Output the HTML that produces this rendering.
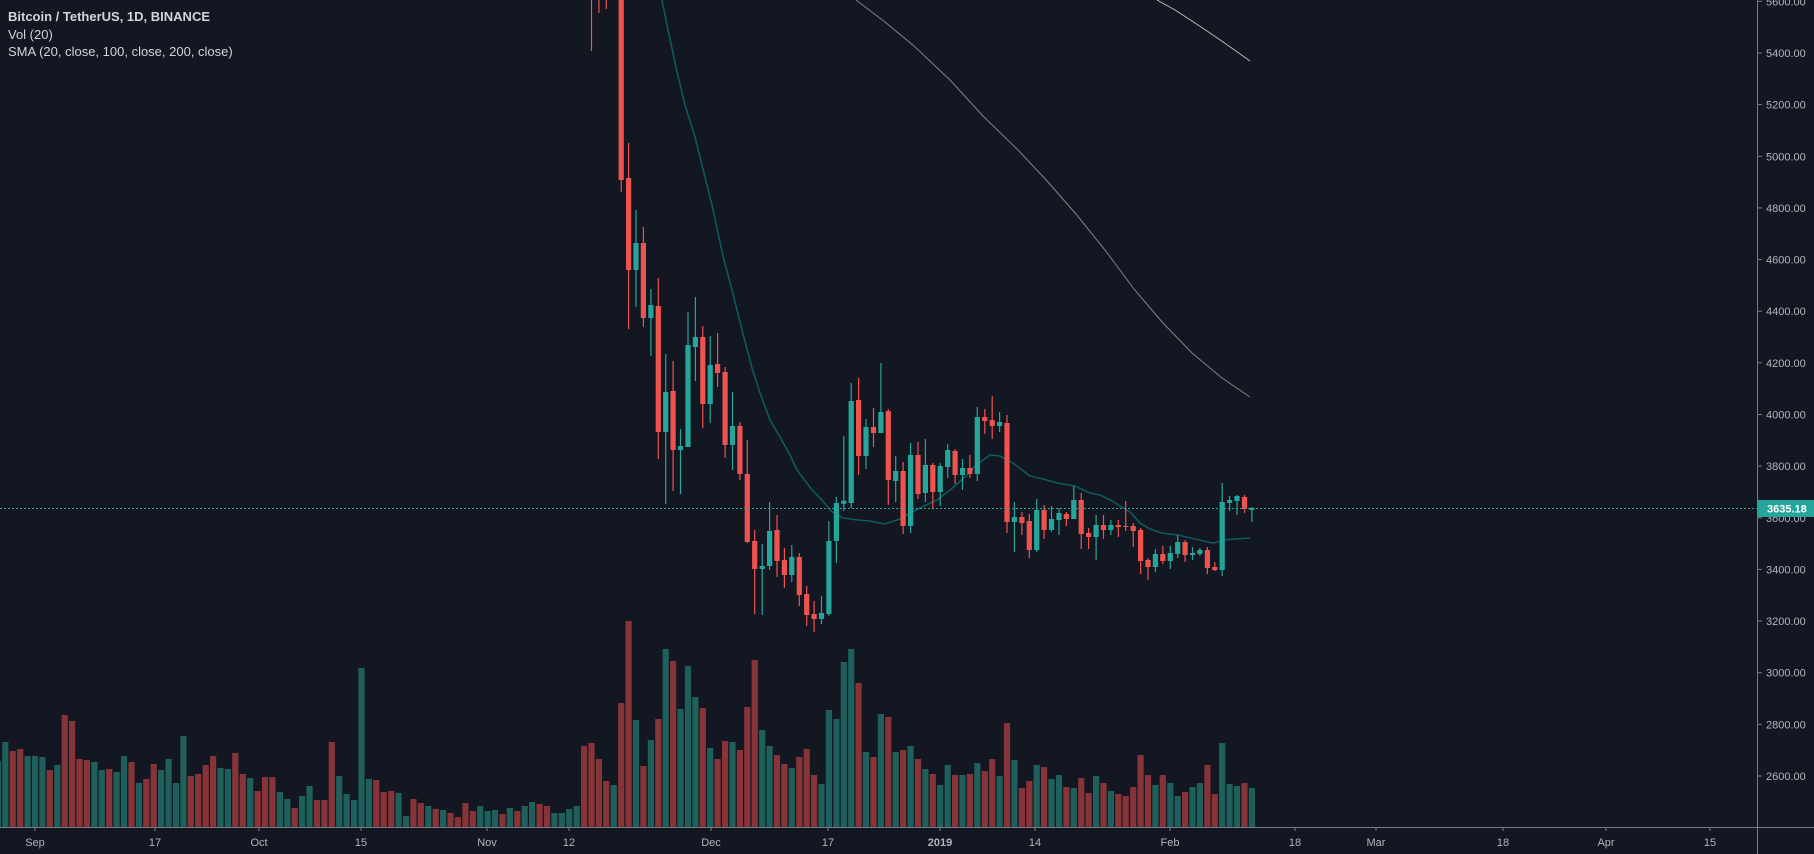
<!DOCTYPE html>
<html><head><meta charset="utf-8">
<style>
html,body{margin:0;padding:0;background:#131722;width:1814px;height:854px;overflow:hidden}
svg{display:block}
text{font-family:"Liberation Sans",sans-serif}
</style></head>
<body>
<svg id="c" width="1814" height="854" viewBox="0 0 1814 854" xmlns="http://www.w3.org/2000/svg">
<rect width="1814" height="854" fill="#131722"/>
<g id="vol"></g>
<!-- SMA lines -->
<polyline fill="none" stroke="#0f5a5f" stroke-width="1.6" points="662,0 667,25 677,72 685,105 695,137 702,165 712,205 723,256 732,290 742,330 752,368 760,393 770,420 780,437 790,455 797,470 812,490 822,500 832,512 843,518 858,520 870,521 885,524 900,519 910,513 920,508 937,500 950,490 965,477 975,466 990,455 1000,456 1013,463 1022,470 1030,476 1043,479 1057,483 1075,486 1090,493 1100,495 1112,501 1120,506 1130,512 1140,523 1150,529 1162,533 1178,535 1195,539 1208,542 1213,543 1225,540 1235,539 1250,538"/>
<polyline fill="none" stroke="#80838c" stroke-width="1" points="856,0 885,22 914,46 950,80 983,116 1018,150 1048,182 1076,214 1105,250 1134,289 1163,323 1192,353 1222,378 1250,397"/>
<polyline fill="none" stroke="#b8bbc2" stroke-width="1" points="1157,0 1175,10 1192,21 1210,33 1226,44 1250,61"/>
<g id="cdl"></g>
<!-- price line -->
<line x1="0" y1="508.5" x2="1757" y2="508.5" stroke="#26a69a" stroke-width="1" stroke-dasharray="2,2"/>
<!-- axes -->
<line x1="0" y1="827.5" x2="1814" y2="827.5" stroke="#787b86" stroke-width="1"/>
<line x1="1757.5" y1="0" x2="1757.5" y2="854" stroke="#787b86" stroke-width="1"/>
<g id="ax" font-size="11" fill="#b2b5be"></g>
<rect x="1758" y="500" width="56" height="17" fill="#26a69a"/>
<text x="1767" y="512.5" font-size="11" fill="#ffffff" font-weight="bold">3635.18</text>
<text x="8" y="21" font-size="13" fill="#d1d4dc" font-weight="bold">Bitcoin / TetherUS, 1D, BINANCE</text>
<text x="8" y="39" font-size="13" fill="#d1d4dc">Vol (20)</text>
<text x="8" y="56" font-size="13" fill="#d1d4dc">SMA (20, close, 100, close, 200, close)</text>
</svg>
<script>
var NS="http://www.w3.org/2000/svg";
function el(p,t,a){var e=document.createElementNS(NS,t);for(var k in a)e.setAttribute(k,a[k]);p.appendChild(e);return e;}
function X(d){return 35+7.42*d;}
var G="#26a69a",R="#ef5350",VG="#1f5f5c",VR="#863438";
var vol=[[-5,'g',761],[-4,'g',742],[-3,'r',751],[-2,'r',749],[-1,'g',756],[0,'g',756],[1,'g',757],[2,'r',770],[3,'g',765],[4,'r',715],[5,'r',721],[6,'r',759],[7,'r',760],[8,'g',762],[9,'g',770],[10,'r',769],[11,'g',772],[12,'g',756],[13,'r',762],[14,'g',783],[15,'r',779],[16,'r',764],[17,'g',770],[18,'g',759],[19,'g',783],[20,'g',736],[21,'r',776],[22,'r',774],[23,'r',765],[24,'r',756],[25,'g',768],[26,'g',769],[27,'r',753],[28,'r',774],[29,'g',778],[30,'r',791],[31,'r',777],[32,'r',777],[33,'g',792],[34,'g',799],[35,'r',808],[36,'g',796],[37,'g',786],[38,'r',800],[39,'r',800],[40,'r',742],[41,'g',776],[42,'g',794],[43,'g',800],[44,'g',668],[45,'g',779],[46,'r',780],[47,'r',792],[48,'r',791],[49,'g',793],[50,'g',816],[51,'r',799],[52,'r',803],[53,'g',806],[54,'r',809],[55,'g',810],[56,'r',813],[57,'r',817],[58,'r',803],[59,'r',811],[60,'g',806],[61,'g',811],[62,'g',810],[63,'r',814],[64,'g',808],[65,'r',811],[66,'g',806],[67,'g',802],[68,'r',804],[69,'r',806],[70,'g',813],[71,'g',813],[72,'g',809],[73,'g',806],[74,'r',746],[75,'r',743],[76,'r',759],[77,'r',781],[78,'g',785],[79,'r',703],[80,'r',621],[81,'g',720],[82,'r',766],[83,'g',740],[84,'r',719],[85,'g',649],[86,'r',661],[87,'g',709],[88,'g',666],[89,'g',697],[90,'r',708],[91,'g',748],[92,'r',759],[93,'r',741],[94,'g',742],[95,'r',750],[96,'r',707],[97,'r',660],[98,'g',730],[99,'g',746],[100,'r',755],[101,'r',764],[102,'g',768],[103,'r',757],[104,'r',749],[105,'r',775],[106,'g',784],[107,'g',710],[108,'g',719],[109,'g',662],[110,'g',649],[111,'r',683],[112,'g',752],[113,'r',757],[114,'g',714],[115,'r',717],[116,'g',752],[117,'r',750],[118,'g',746],[119,'r',759],[120,'g',769],[121,'r',774],[122,'g',785],[123,'g',765],[124,'r',775],[125,'g',775],[126,'r',774],[127,'g',763],[128,'r',771],[129,'r',759],[130,'g',776],[131,'r',723],[132,'g',760],[133,'r',788],[134,'r',781],[135,'g',765],[136,'r',767],[137,'g',779],[138,'g',775],[139,'r',787],[140,'g',788],[141,'r',778],[142,'r',793],[143,'g',776],[144,'r',783],[145,'g',791],[146,'r',794],[147,'r',796],[148,'r',787],[149,'r',755],[150,'r',775],[151,'g',785],[152,'r',775],[153,'g',783],[154,'g',796],[155,'r',792],[156,'g',787],[157,'g',783],[158,'r',765],[159,'r',794],[160,'g',743],[161,'g',784],[162,'g',786],[163,'r',783],[164,'g',788]];
var vg=document.getElementById('vol');
vol.forEach(function(v){var x=X(v[0]);el(vg,'rect',{x:(x-3.1).toFixed(1),y:v[2],width:6.2,height:827-v[2],fill:v[1]=='g'?VG:VR});});
// [d,O,C,H,L]
var cd=[[75,-30,-20,-40,51],[76,-30,-20,-40,13],[77,-30,-20,-40,9],[78,-30,-20,-40,-5],
[79,-5,180,-10,192],[80,178,270,143,329],[81,270,243,210,307],[82,243,318,227,327],[83,318,305,289,356],[84,306,432,278,459],[85,432,392,354,504],[86,391,450,361,491],[87,450,446,429,494],[88,447,345,312,447],[89,347,337,297,381],[90,337,404,326,428],[91,404,365,336,423],[92,364,373,333,387],[93,372,445,367,458],[94,445,426,392,470],[95,426,474,422,480],[96,474,542,440,543],[97,541,569,530,614],[98,569,566,544,615],[99,566,531,502,570],[100,530,561,515,577],[101,560,575,548,588],[102,575,557,545,582],[103,557,595,553,606],[104,594,615,586,626],[105,614,619,601,632],[106,619,613,596,624],[107,614,541,521,616],[108,541,503,497,563],[109,503.7,500.7,436,511],[110,503,401,383,508],[111,400,456,378,475],[112,456,427,419,469],[113,427,433,408,447],[114,433,412,363,433],[115,411,480,409,505],[116,481,471,456,502],[117,471,526,462,534],[118,526,455,443,533],[119,455,494,442,499],[120,493,465,439,502],[121,465,492,463,508],[122,492,466,463,506],[123,467,450,444,478],[124,451,475,449,484],[125,475,468,459,490],[126,468,474,455,478],[127,474,417,407,481],[128,417,421,409,434],[129,420,426,396,439],[130,426,422,412,432],[131,423,522,415,533],[132,522,517,502,552],[133,517,523,512,535],[134,521,550,514,558],[135,550,510,499,552],[136,510,530,505,539],[137,530,519,506,532],[138,520,513,508,535],[139,514,519,512,526],[140,519,500,486,519],[141,500,534,493,549],[142,533,537,528,549],[143,537,525,515,560],[144,525,530,515,539],[145,530,525,520,535],[146,525,527,520,537],[147,526,527,501,531],[148,526,531,523,547],[149,530,561,528,574],[150,560,567,558,580],[151,567,554,549,572],[152,554,561,546,564],[153,561,553,546,569],[154,554,542,535,558],[155,542,555,540,562],[156,555,553,547,560],[157,554,550,548,556],[158,550,568,547,574],[159,567,570,562,571],[160,570,502,483,576],[161,503,500,496,511],[162,501,496,495,515],[163,497,509,495,513],[164,510,508,507,522]];
var cg=document.getElementById('cdl');
cd.forEach(function(c){var x=X(c[0]);var up=c[2]<c[1];var col=up?G:R;
var t=Math.min(c[1],c[2]),b=Math.max(c[1],c[2]);
el(cg,'line',{x1:x.toFixed(1),x2:x.toFixed(1),y1:c[3],y2:c[4],stroke:col,'stroke-width':1.2});
el(cg,'rect',{x:(x-2.6).toFixed(1),y:t,width:5.2,height:Math.max(1,b-t),fill:col});});
var ax=document.getElementById('ax');
for(var p=5600;p>=2600;p-=200){var y=53+(5400-p)*0.2582;
el(ax,'line',{x1:1757,x2:1762,y1:y.toFixed(1),y2:y.toFixed(1),stroke:'#787b86'});
var t=el(ax,'text',{x:1766,y:(y+4).toFixed(1)});t.textContent=p+'.00';}
var tl=[[35,'Sep'],[155,'17'],[259,'Oct'],[361,'15'],[487,'Nov'],[569,'12'],[711,'Dec'],[828,'17'],[940,'2019'],[1035,'14'],[1170,'Feb'],[1295,'18'],[1376,'Mar'],[1503,'18'],[1606,'Apr'],[1710,'15']];
tl.forEach(function(a){el(ax,'line',{x1:a[0],x2:a[0],y1:827,y2:831,stroke:'#787b86'});
var t=el(ax,'text',{x:a[0],y:846,'text-anchor':'middle'});t.textContent=a[1];if(a[1]=='2019')t.setAttribute('font-weight','bold');});
</script>
</body></html>
